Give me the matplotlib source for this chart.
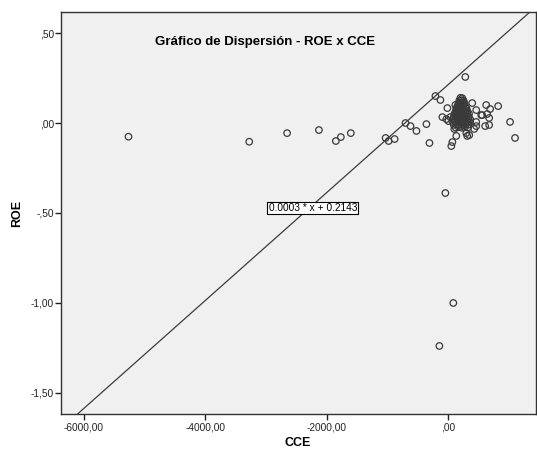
import matplotlib
matplotlib.use("Agg")
import matplotlib.pyplot as plt

plt.rcParams['font.family'] = ['Liberation Sans', 'DejaVu Sans']

# Scattered observations (CCE, ROE)
cce_spread = [-5266, -3278, -2655, -2131, -1852, -1770, -1606, -1033, -983, -885,
              -705, -623, -525, -361, -311, -213, -131, 279, -49, 82, -148]
roe_spread = [-0.076, -0.104, -0.056, -0.039, -0.100, -0.078, -0.056, -0.083, -0.100, -0.089,
              0.000, -0.017, -0.044, -0.006, -0.111, 0.150, 0.128, 0.256, -0.389, -1.000, -1.239]

# Observations around zero CCE
cce_near = [-98, -33, -16, 0, 33, 98, 49, 131, 66, 295, 344, 426, 459, 541, 393, 115,
            623, 820, 688, 459, 557, 639, 672, 1016, 1098, 606, 672, 459, 311]
roe_near = [0.033, 0.022, 0.083, 0.011, 0.033, -0.033, -0.128, -0.072, -0.106, -0.056,
            -0.067, -0.033, 0.006, 0.044, 0.111, 0.100, 0.100, 0.094, 0.078, 0.072,
            0.044, 0.050, 0.028, 0.006, -0.083, -0.017, -0.011, -0.017, -0.072]

# Dense core of the distribution
cce_core = [200, 230,
            180, 215, 250,
            170, 200, 235, 265,
            150, 185, 215, 245, 280,
            130, 165, 200, 230, 265, 300,
            120, 150, 185, 215, 250, 285, 315,
            100, 135, 170, 205, 240, 275, 310, 340,
            90, 125, 160, 195, 230, 265, 300, 335,
            80, 115, 150, 185, 220, 255, 290, 330, 360,
            75, 110, 145, 180, 215, 250, 285, 320, 355,
            90, 130, 170, 210, 250, 290, 330,
            120, 170, 220, 270, 320]
roe_core = [0.140, 0.138,
            0.125, 0.127, 0.124,
            0.110, 0.112, 0.109, 0.111,
            0.095, 0.097, 0.094, 0.096, 0.093,
            0.080, 0.082, 0.079, 0.081, 0.078, 0.080,
            0.065, 0.067, 0.064, 0.066, 0.063, 0.065, 0.064,
            0.050, 0.052, 0.049, 0.051, 0.048, 0.050, 0.049, 0.051,
            0.035, 0.037, 0.034, 0.036, 0.033, 0.035, 0.034, 0.036,
            0.020, 0.022, 0.019, 0.021, 0.018, 0.020, 0.019, 0.021, 0.020,
            0.005, 0.007, 0.004, 0.006, 0.003, 0.005, 0.004, 0.006, 0.005,
            -0.010, -0.008, -0.011, -0.009, -0.012, -0.010, -0.009,
            -0.025, -0.023, -0.026, -0.024, -0.025]

# Linear fit shown on the chart
slope = 0.0003
intercept = 0.2143
fit_label = "0.0003 * x + 0.2143"

title = "Gráfico de Dispersión - ROE x CCE"
x_label = "CCE"
y_label = "ROE"
x_ticks = [-6000, -4000, -2000, 0]
x_tick_labels = ["-6000,00", "-4000,00", "-2000,00", ",00"]
y_ticks = [0.5, 0.0, -0.5, -1.0, -1.5]
y_tick_labels = [",50", ",00", "-,50", "-1,00", "-1,50"]

fig = plt.figure(figsize=(5.37, 4.5), dpi=100)
fig.patch.set_facecolor("white")
ax = fig.add_axes([61 / 537, 1 - 414 / 450, 475 / 537, 402 / 450])
ax.set_facecolor("#f0f0f0")

xs = cce_spread + cce_near + cce_core
ys = roe_spread + roe_near + roe_core
ax.scatter(xs, ys, s=22, facecolors="none", edgecolors="#3a3a3a", linewidths=0.9, zorder=3)

ax.set_xlim(-6377, 1443)
ax.set_ylim(-1.617, 0.617)

ax.axline((0, intercept), slope=slope, color="#3c3c3c", linewidth=0.9, zorder=2)

ax.text(-2230, -0.472, fit_label, fontsize=7.3, ha="center", va="center", zorder=4,
        bbox=dict(boxstyle="square,pad=0.12", facecolor="white", edgecolor="black", linewidth=0.8))

ax.text(0.43, 0.925, title, transform=ax.transAxes, fontsize=9.5, fontweight="bold",
        ha="center", va="center")

ax.set_xticks(x_ticks)
ax.set_xticklabels(x_tick_labels)
ax.set_yticks(y_ticks)
ax.set_yticklabels(y_tick_labels)
ax.tick_params(axis="both", direction="out", length=4, width=1, labelsize=7.3, colors="#222222")
ax.tick_params(axis="x", pad=2)
ax.tick_params(axis="y", pad=1)
ax.tick_params(top=False, right=False)

for side in ["left", "bottom", "top", "right"]:
    ax.spines[side].set_color("#333333")
    ax.spines[side].set_linewidth(1.0)

# Axis titles placed in figure pixels so they stay inside the canvas
fig.text(298 / 537, 1 - 443 / 450, x_label, fontsize=9, fontweight="bold",
         ha="center", va="center")
fig.text(17 / 537, 1 - 213 / 450, y_label, fontsize=9, fontweight="bold",
         ha="center", va="center", rotation=90)

fig.savefig("out.png", dpi=100)
